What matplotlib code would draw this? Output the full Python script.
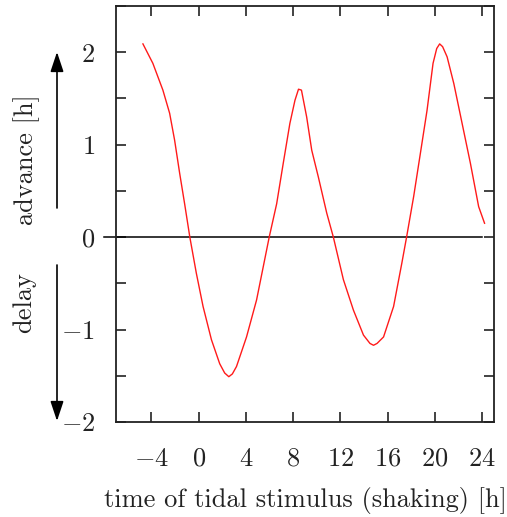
import matplotlib
matplotlib.use("Agg")
import matplotlib.pyplot as plt
from matplotlib.ticker import MultipleLocator

plt.rcParams['font.family'] = 'serif'
plt.rcParams['font.serif'] = ['cmr10']
plt.rcParams['mathtext.fontset'] = 'cm'
plt.rcParams['axes.formatter.use_mathtext'] = True

# --- data ---
stim_time = [-4.72, -3.88, -3.03, -2.46, -2.04, -1.61, -1.19, -0.75, -0.2, 0.37,
             1.08, 1.78, 2.2, 2.55, 2.85, 3.2, 4.05, 4.9, 5.97, 6.6, 7.16, 7.72,
             8.15, 8.45, 8.7, 9.14, 9.57, 10.13, 10.84, 11.4, 12.25, 13.1, 13.95,
             14.5, 14.8, 15.1, 15.65, 16.5, 17.2, 17.6, 18.2, 18.76, 19.33, 19.84,
             20.15, 20.4, 20.65, 21.03, 21.6, 22.3, 23.0, 23.7, 24.2]
phase_shift = [2.09, 1.88, 1.59, 1.34, 1.05, 0.69, 0.36, 0.0, -0.39, -0.75,
               -1.11, -1.37, -1.47, -1.51, -1.48, -1.40, -1.08, -0.68, 0.0, 0.36,
               0.80, 1.23, 1.48, 1.60, 1.59, 1.30, 0.94, 0.65, 0.26, 0.0, -0.46,
               -0.79, -1.06, -1.15, -1.17, -1.15, -1.08, -0.75, -0.28, 0.0, 0.44,
               0.90, 1.37, 1.88, 2.04, 2.09, 2.06, 1.95, 1.66, 1.23, 0.80, 0.33, 0.15]
xticks = [-4, 0, 4, 8, 12, 16, 20, 24]
xticklabels = ['$-4$', '$0$', '$4$', '$8$', '$12$', '$16$', '$20$', '$24$']
yticks = [-2, -1, 0, 1, 2]
yticklabels = ['$-2$', '$-1$', '$0$', '$1$', '$2$']
zero_line_x = [-8, 24]
zero_line_y = [0, 0]

FS = 19
fig = plt.figure(figsize=(5.07, 5.17), dpi=100)
ax = fig.add_axes([116/507, 1-422/517, (494-116)/507, (422-6)/517])

ax.plot(zero_line_x, zero_line_y, color='black', lw=1.1, clip_on=False, zorder=2)
ax.plot(stim_time, phase_shift, color='#ff1a1a', lw=1.0, zorder=3)

ax.set_xlim(-7, 25)
ax.set_ylim(-2, 2.5)
ax.set_xticks(xticks)
ax.set_xticklabels(xticklabels)
ax.set_yticks(yticks)
ax.set_yticklabels(yticklabels)
ax.yaxis.set_minor_locator(MultipleLocator(0.5))

for s in ax.spines.values():
    s.set_linewidth(1.3)
    s.set_color('#222222')
ax.tick_params(which='both', direction='in', top=True, right=True,
               length=7, width=1.2, color='#222222', labelsize=FS,
               labelcolor='#222222')
ax.tick_params(axis='y', which='major', pad=15)
ax.tick_params(axis='x', which='major', pad=18)

ax.set_xlabel('time of tidal stimulus (shaking) [h]', fontsize=FS,
              color='#222222', labelpad=12)

fig.text(27/507, 1-160/517, 'advance [h]', rotation=90, ha='center', va='center',
         fontsize=FS, color='#222222')
fig.text(24/507, 1-303/517, 'delay', rotation=90, ha='center', va='center',
         fontsize=FS, color='#222222')

ax.annotate('', xy=(57/507, 1-52/517), xytext=(57/507, 1-208/517),
            xycoords='figure fraction', textcoords='figure fraction',
            arrowprops=dict(arrowstyle='-|>,head_length=1.2,head_width=0.4',
                            mutation_scale=10, lw=1.2, color='black',
                            shrinkA=0, shrinkB=0))
ax.annotate('', xy=(57/507, 1-421/517), xytext=(57/507, 1-265/517),
            xycoords='figure fraction', textcoords='figure fraction',
            arrowprops=dict(arrowstyle='-|>,head_length=1.2,head_width=0.4',
                            mutation_scale=10, lw=1.2, color='black',
                            shrinkA=0, shrinkB=0))

fig.savefig('out.png', dpi=100)
